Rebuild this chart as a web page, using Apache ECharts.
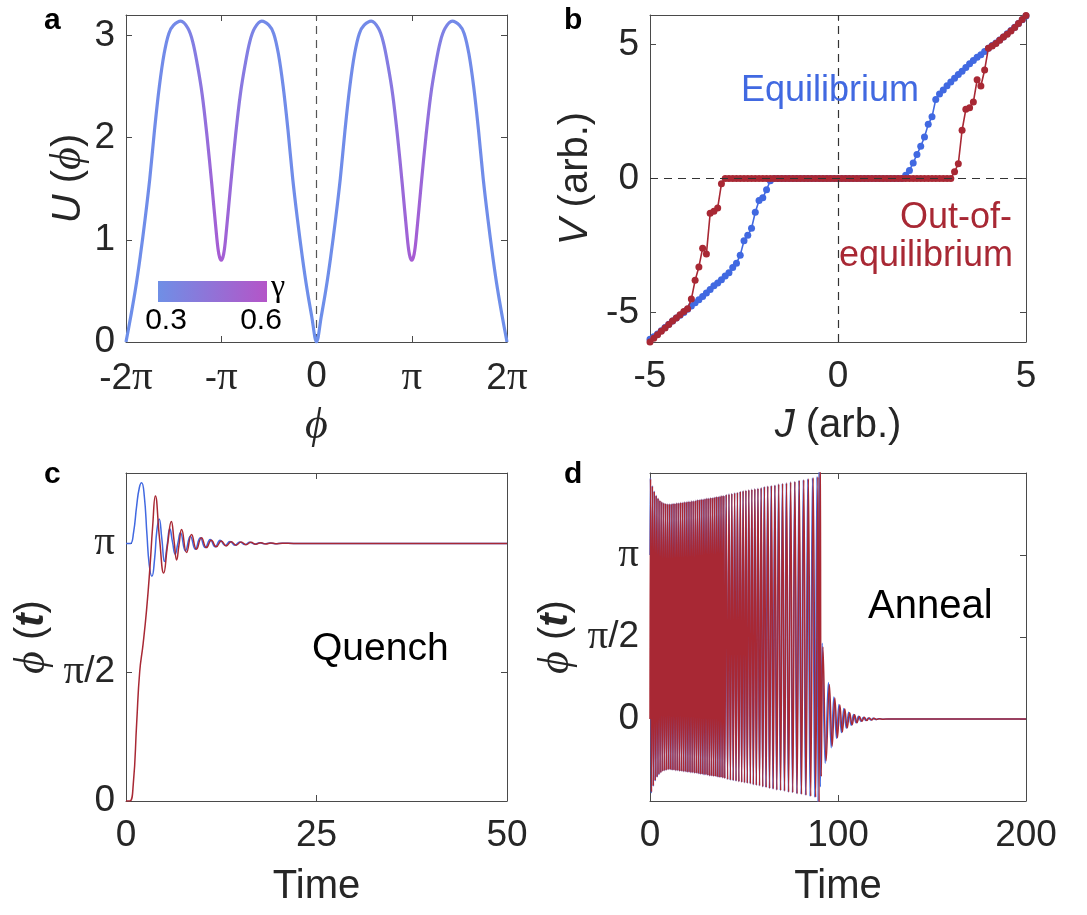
<!DOCTYPE html>
<html><head><meta charset="utf-8">
<script src="https://cdn.jsdelivr.net/npm/echarts@6/dist/echarts.min.js"></script>
<style>html,body{margin:0;padding:0;background:#fff}#c{width:1087px;height:915px}</style>
</head><body><div id="c"></div>
<script>
// ---------- Panel a: potential U(phi); phi in units of pi ----------
const phiA = [-2,-1.95,-1.9,-1.85,-1.8,-1.75,-1.7,-1.65,-1.6,-1.55,-1.5,-1.425,-1.35,-1.3,-1.25,-1.2,-1.15,-1.1,-1.05,-1.025,-1,-0.975,-0.95,-0.9,-0.85,-0.8,-0.75,-0.7,-0.65,-0.575,-0.5,-0.45,-0.4,-0.35,-0.3,-0.25,-0.2,-0.15,-0.1,-0.05,
  0,0.05,0.1,0.15,0.2,0.25,0.3,0.35,0.4,0.45,0.5,0.575,0.65,0.7,0.75,0.8,0.85,0.9,0.95,0.975,1,1.025,1.05,1.1,1.15,1.2,1.25,1.3,1.35,1.425,1.5,1.55,1.6,1.65,1.7,1.75,1.8,1.85,1.9,1.95,2];
const uA = [0,0.25,0.52,0.84,1.2,1.6,2.08,2.5,2.82,3.02,3.1,3.14,3.07,2.94,2.71,2.42,2.02,1.55,1.05,0.86,0.8,0.86,1.05,1.55,2.02,2.42,2.71,2.94,3.07,3.14,3.1,3.02,2.82,2.5,2.08,1.6,1.2,0.84,0.52,0.25,
  0,0.25,0.52,0.84,1.2,1.6,2.08,2.5,2.82,3.02,3.1,3.14,3.07,2.94,2.71,2.42,2.02,1.55,1.05,0.86,0.8,0.86,1.05,1.55,2.02,2.42,2.71,2.94,3.07,3.14,3.1,3.02,2.82,2.5,2.08,1.6,1.2,0.84,0.52,0.25,0];
const aTicksX = [-2,-1,0,1,2];
const aLabelsX = ['-2π','-π','0','π','2π'];
const aTicksY = [0,1,2,3];
const aLabelsY = ['0','1','2','3'];
const gammaLabels = ['0.3','0.6'];

// ---------- Panel b: V(J) ----------
const jB = [-5,-4.9,-4.8,-4.7,-4.6,-4.5,-4.4,-4.3,-4.2,-4.1,-4,-3.9,-3.8,-3.7,-3.6,-3.5,-3.4,-3.3,-3.2,-3.1,-3,-2.9,-2.8,-2.7,-2.6,-2.5,-2.4,-2.3,-2.2,-2.1,-2,-1.9,-1.8,-1.7,-1.6,-1.5,-1.4,-1.3,-1.2,-1.1,-1,-0.9,-0.8,-0.7,-0.6,-0.5,-0.4,-0.3,-0.2,-0.1,0,0.1,0.2,0.3,0.4,0.5,0.6,0.7,0.8,0.9,1,1.1,1.2,1.3,1.4,1.5,1.6,1.7,1.8,1.9,2,2.1,2.2,2.3,2.4,2.5,2.6,2.7,2.8,2.9,3,3.1,3.2,3.3,3.4,3.5,3.6,3.7,3.8,3.9,4,4.1,4.2,4.3,4.4,4.5,4.6,4.7,4.8,4.9,5];
const vEq = [-6.0,-5.9,-5.8,-5.68,-5.56,-5.44,-5.32,-5.2,-5.1,-5.0,-4.88,-4.76,-4.64,-4.52,-4.4,-4.27,-4.14,-4.0,-3.9,-3.78,-3.64,-3.52,-3.32,-3.16,-2.86,-2.32,-2.12,-1.86,-1.26,-0.82,-0.72,-0.42,-0.08,
  0,0,0,0,0,0,0,0,0,0,0,0,0,0,0,0,0,0,0,0,0,0,0,0,0,0,0,0,0,0,0,0,0,0,0,
  0.12,0.3,0.58,0.9,1.2,1.55,2.02,2.3,2.95,3.15,3.3,3.46,3.6,3.74,3.88,4.0,4.14,4.28,4.4,4.52,4.62,4.74,4.86,4.96,5.06,5.17,5.28,5.4,5.52,5.64,5.78,5.92,6.06];
const vOut = [-6.1,-5.96,-5.83,-5.7,-5.58,-5.45,-5.32,-5.2,-5.08,-4.96,-4.86,-4.5,-3.8,-3.3,-2.6,-2.82,-1.3,-1.22,-1.1,-0.2,
  0,0,0,0,0,0,0,0,0,0,0,0,0,0,0,0,0,0,0,0,0,0,0,0,0,0,0,0,0,0,0,0,0,0,0,0,0,0,0,0,0,0,0,0,0,0,0,0,0,0,0,0,0,0,0,0,0,0,0,0,0,
  0.25,0.55,1.8,2.58,2.64,2.85,3.68,3.45,4.05,4.86,4.94,5.04,5.16,5.28,5.38,5.5,5.63,5.78,5.93,6.08];
const bTicks = [-5,0,5];
const bLabels = ['-5','0','5'];

// ---------- Panel c: quench phi(t) ----------
const quenchBlue = [[0,3.1416],[0.3,3.1416],[0.6,3.1416],[1.0,3.28],[1.4,3.6],[1.75,3.82],[2.05,3.88],[2.4,3.72],[2.75,3.25],[3.05,2.88],[3.4,2.74],[3.75,2.95],[4.05,3.3],[4.35,3.44],[4.7,3.2],[5.05,2.92],[5.4,3.12],[5.75,3.32],[6.1,3.16],[6.45,3.01],[6.8,3.14],[7.15,3.27],[7.8,3.05],[8.45,3.23],[9.1,3.07],[9.75,3.21],[10.4,3.09],[11.05,3.19],[11.7,3.1],[12.35,3.18],[13.0,3.115],[13.65,3.165],[14.3,3.12],[14.95,3.16],[15.6,3.128],[16.25,3.154],[16.9,3.132],[17.55,3.15],[18.2,3.136],[18.85,3.147],[19.5,3.138],[20.5,3.144],[22,3.141],[25,3.1416],[50,3.1416]];
const quenchRed = [[0,0],[0.5,0],[0.95,0.2],[1.4,0.95],[1.8,1.58],[2.25,1.92],[2.7,2.33],[3.15,2.86],[3.5,3.35],[3.85,3.72],[4.4,3.2],[4.95,2.78],[5.45,3.12],[5.95,3.41],[6.3,3.18],[6.65,2.94],[6.95,3.12],[7.3,3.31],[7.95,3.03],[8.6,3.25],[9.25,3.07],[9.9,3.21],[10.55,3.09],[11.2,3.18],[11.85,3.1],[12.5,3.17],[13.15,3.11],[13.8,3.163],[14.45,3.12],[15.1,3.158],[15.75,3.126],[16.4,3.154],[17.05,3.131],[17.7,3.15],[18.35,3.135],[19.0,3.147],[19.65,3.138],[20.5,3.144],[22,3.141],[25,3.1416],[50,3.1416]];
const cTicksX = [0,25,50];
const cLabelsX = ['0','25','50'];
const phaseTicks = [0, Math.PI/2, Math.PI];
const phaseLabels = ['0','π/2','π'];

// ---------- Panel d: anneal phi(t), turning points ----------
const annealRed = [[0,0],[0.3,4.6],[0.8,-1.4],[1.3,4.46],[1.8,-1.28],[2.3,4.36],[2.8,-1.18],[3.3,4.28],[3.8,-1.11],[4.3,4.23],[4.8,-1.06],[5.3,4.19],[5.8,-1.03],[6.3,4.16],[6.8,-1.0],[7.3,4.14],[7.8,-0.99],[8.3,4.13],[8.8,-0.98],[9.3,4.12],[9.8,-0.97],
  [10.3,4.12],[10.8,-0.97],[11.3,4.12],[11.8,-0.98],[12.3,4.13],[12.8,-0.98],[13.3,4.13],[13.8,-0.99],[14.3,4.14],[14.8,-0.99],[15.3,4.14],[15.8,-1.0],[16.3,4.15],[16.8,-1.0],[17.3,4.15],[17.8,-1.01],[18.3,4.16],[18.8,-1.01],[19.3,4.16],[19.8,-1.02],
  [20.3,4.17],[20.8,-1.02],[21.3,4.17],[21.8,-1.03],[22.3,4.18],[22.8,-1.03],[23.3,4.18],[23.8,-1.04],[24.3,4.19],[24.8,-1.04],[25.3,4.2],[25.8,-1.05],[26.3,4.2],[26.8,-1.06],[27.3,4.21],[27.8,-1.06],[28.3,4.21],[28.8,-1.07],[29.3,4.22],[29.8,-1.07],
  [30.3,4.23],[30.8,-1.08],[31.3,4.23],[31.8,-1.09],[32.3,4.24],[32.8,-1.09],[33.3,4.24],[33.8,-1.1],[34.3,4.25],[34.8,-1.1],[35.3,4.26],[35.8,-1.11],[36.3,4.26],[36.8,-1.12],[37.3,4.27],[37.8,-1.12],[38.3,4.28],[38.8,-1.13],[39.3,4.28],[39.8,-1.14],
  [40.55,4.3],[41.3,-1.16],[42.05,4.31],[42.8,-1.17],[43.55,4.32],[44.3,-1.18],[45.05,4.33],[45.8,-1.19],[46.55,4.34],[47.3,-1.2],[48.05,4.36],[48.8,-1.21],[49.55,4.37],[50.3,-1.22],[51.05,4.38],[51.8,-1.23],[52.6,4.39],[53.4,-1.24],[54.2,4.4],[55.0,-1.26],[55.8,4.41],[56.6,-1.27],[57.45,4.42],[58.3,-1.28],[59.15,4.43],[60.0,-1.3],
  [60.9,4.45],[61.8,-1.31],[62.7,4.46],[63.65,-1.33],[64.6,4.47],[65.55,-1.34],[66.5,4.48],[67.5,-1.36],[68.5,4.5],[69.5,-1.37],[70.55,4.51],[71.6,-1.38],[72.65,4.52],[73.75,-1.4],[74.85,4.54],[75.95,-1.41],[77.1,4.55],[78.25,-1.43],[79.4,4.57],
  [80.6,-1.44],[81.8,4.58],[83.0,-1.46],[84.25,4.6],[85.5,-1.48],[86.8,4.62],[88.1,-1.5],[89.3,4.64],[89.95,-1.65],[90.55,5.3],[91.1,-1.1],
  [92.0,1.38],[93.7,-0.8],[95.4,0.66],[96.9,-0.52],[98.3,0.4],[99.7,-0.36],[101.0,0.27],[102.3,-0.25],[103.6,0.19],[104.9,-0.17],[106.2,0.12],[107.5,-0.11],[108.8,0.08],[110.1,-0.07],[111.4,0.05],[112.7,-0.045],[114.0,0.032],[115.3,-0.028],[116.6,0.02],[117.9,-0.017],[119.2,0.012],[120.5,-0.01],[122,0.005],[124,-0.003],[127,0],[200,0]];
const annealBlue = [[0,3.1416],[0.2,4.62],[0.7,-1.42],[1.2,4.47],[1.7,-1.29],[2.2,4.37],[2.7,-1.19],[3.2,4.29],[3.7,-1.12],[4.2,4.23],[4.7,-1.07],[5.2,4.19],[5.7,-1.03],[6.2,4.16],[6.7,-1.0],[7.2,4.14],[7.7,-0.99],[8.2,4.13],[8.7,-0.98],[9.2,4.12],[9.7,-0.97],
  [10.2,4.12],[10.7,-0.97],[11.2,4.12],[11.7,-0.98],[12.2,4.13],[12.7,-0.98],[13.2,4.13],[13.7,-0.99],[14.2,4.14],[14.7,-0.99],[15.2,4.14],[15.7,-1.0],[16.2,4.15],[16.7,-1.0],[17.2,4.15],[17.7,-1.01],[18.2,4.16],[18.7,-1.01],[19.2,4.16],[19.7,-1.02],
  [20.2,4.17],[20.7,-1.02],[21.2,4.17],[21.7,-1.03],[22.2,4.18],[22.7,-1.03],[23.2,4.18],[23.7,-1.04],[24.2,4.19],[24.7,-1.04],[25.2,4.2],[25.7,-1.05],[26.2,4.2],[26.7,-1.06],[27.2,4.21],[27.7,-1.06],[28.2,4.21],[28.7,-1.07],[29.2,4.22],[29.7,-1.07],
  [30.2,4.23],[30.7,-1.08],[31.2,4.23],[31.7,-1.09],[32.2,4.24],[32.7,-1.09],[33.2,4.24],[33.7,-1.1],[34.2,4.25],[34.7,-1.1],[35.2,4.26],[35.7,-1.11],[36.2,4.26],[36.7,-1.12],[37.2,4.27],[37.7,-1.12],[38.2,4.28],[38.7,-1.13],[39.2,4.28],[39.7,-1.14],
  [40.45,4.3],[41.2,-1.16],[41.95,4.31],[42.7,-1.17],[43.45,4.32],[44.2,-1.18],[44.95,4.33],[45.7,-1.19],[46.45,4.34],[47.2,-1.2],[47.95,4.36],[48.7,-1.21],[49.45,4.37],[50.2,-1.22],[50.95,4.38],[51.7,-1.23],[52.5,4.39],[53.3,-1.24],[54.1,4.4],[54.9,-1.26],[55.7,4.41],[56.5,-1.27],[57.35,4.42],[58.2,-1.28],[59.05,4.43],[59.9,-1.3],
  [60.7,4.45],[61.6,-1.31],[62.5,4.46],[63.45,-1.33],[64.4,4.47],[65.35,-1.34],[66.3,4.48],[67.3,-1.36],[68.3,4.5],[69.3,-1.37],[70.35,4.51],[71.4,-1.38],[72.45,4.52],[73.55,-1.4],[74.65,4.54],[75.75,-1.41],[76.9,4.55],[78.05,-1.43],[79.2,4.57],
  [80.35,-1.44],[81.5,4.58],[82.7,-1.46],[83.9,4.6],[85.1,-1.48],[86.4,4.62],[87.6,-1.5],[88.8,4.64],[89.4,-1.65],[89.95,5.3],[90.6,-1.3],
  [91.6,1.45],[93.2,-0.85],[94.9,0.7],[96.4,-0.55],[97.8,0.42],[99.2,-0.37],[100.5,0.28],[101.8,-0.26],[103.1,0.2],[104.4,-0.18],[105.7,0.13],[107.0,-0.12],[108.3,0.085],[109.6,-0.075],[110.9,0.055],[112.2,-0.048],[113.5,0.034],[114.8,-0.03],[116.1,0.022],[117.4,-0.018],[118.7,0.013],[120,-0.011],[121.5,0.006],[123.5,-0.003],[127,0],[200,0]];
const dTicksX = [0,100,200];
const dLabelsX = ['0','100','200'];

// ---------- styling ----------
const SANS = "'Liberation Sans', Arial, Helvetica, sans-serif";
const SERIF = "'Liberation Serif', 'Times New Roman', 'DejaVu Serif', serif";
const AX = '#4a4a4a', TXT = '#262626';
const BLUE = '#4169e1', RED = '#a82834';
const TICK_FS = 37, NAME_FS = 40;

function toRich(s){ return s.split('π').map(p => p ? '{n|' + p + '}' : '').join('{p|π}'); }
function fmt(vals, labels){
  return function(v){
    for (let i = 0; i < vals.length; i++) if (Math.abs(v - vals[i]) < 1e-6) return toRich(labels[i]);
    return '';
  };
}
const richTick = { n:{fontFamily:SANS,fontSize:TICK_FS,color:TXT}, p:{fontFamily:SERIF,fontSize:TICK_FS+4,color:TXT} };
const richName = {
  i:{fontFamily:SANS,fontStyle:'italic',fontSize:NAME_FS,color:TXT},
  p:{fontFamily:SERIF,fontStyle:'italic',fontSize:NAME_FS+4,color:TXT},
  t:{fontFamily:SANS,fontStyle:'italic',fontWeight:'bold',fontSize:NAME_FS,color:TXT}
};
function axisPair(kind, gi, min, max, ticks, labels, name, nameGap){
  const main = {
    type:'value', gridIndex:gi, min:min, max:max,
    position: kind === 'x' ? 'bottom' : 'left',
    axisLine:{show:true,onZero:false,lineStyle:{color:AX,width:1}},
    axisTick:{show:true,inside:true,length:6,customValues:ticks,lineStyle:{color:AX,width:1}},
    axisLabel:{show:true,customValues:ticks,margin: kind === 'x' ? 16 : 11,formatter:fmt(ticks,labels),rich:richTick,fontSize:TICK_FS,fontFamily:SANS,color:TXT},
    splitLine:{show:false},
    name:name, nameLocation:'middle', nameGap:nameGap,
    nameTextStyle:{fontFamily:SANS,fontSize:NAME_FS,color:TXT,rich:richName}
  };
  const twin = {
    type:'value', gridIndex:gi, min:min, max:max,
    position: kind === 'x' ? 'top' : 'right',
    axisLine:{show:true,onZero:false,lineStyle:{color:AX,width:1}},
    axisTick:{show:true,inside:true,length:6,customValues:ticks,lineStyle:{color:AX,width:1}},
    axisLabel:{show:false}, splitLine:{show:false}
  };
  return [main, twin];
}

const G = echarts.graphic;
const curveGrad = new G.LinearGradient(0,0,1,0,[
  {offset:0,color:'#6d8fea'},{offset:0.15,color:'#7489e8'},{offset:0.2,color:'#8c76df'},{offset:0.25,color:'#a85ad2'},
  {offset:0.3,color:'#8c76df'},{offset:0.35,color:'#7489e8'},{offset:0.5,color:'#6d8fea'},
  {offset:0.65,color:'#7489e8'},{offset:0.7,color:'#8c76df'},{offset:0.75,color:'#a85ad2'},
  {offset:0.8,color:'#8c76df'},{offset:0.85,color:'#7489e8'},{offset:1,color:'#6d8fea'}]);

const xAxis = [].concat(
  axisPair('x',0,-2,2,aTicksX,aLabelsX,'{p|ϕ}',62),
  axisPair('x',1,-5,5,bTicks,bLabels,'{i|J} (arb.)',64),
  axisPair('x',2,0,50,cTicksX,cLabelsX,'Time',66),
  axisPair('x',3,0,200,dTicksX,dLabelsX,'Time',66)
);
const yAxis = [].concat(
  axisPair('y',0,0,3.2,aTicksY,aLabelsY,'{i|U} ({p|ϕ})',34),
  axisPair('y',1,-6.1,6.1,bTicks,bLabels,'{i|V} (arb.)',54),
  axisPair('y',2,0,4,phaseTicks,phaseLabels,'{p|ϕ} ({t|t})',72),
  axisPair('y',3,-Math.PI/2,3*Math.PI/2,phaseTicks,phaseLabels,'{p|ϕ} ({t|t})',72)
);

const dashStyle = {type:[8,6],color:'#333',width:1.2};
const series = [
  {type:'line',xAxisIndex:0,yAxisIndex:0,data:phiA.map((p,i)=>[p,uA[i]]),symbol:'none',smooth:0.35,
   lineStyle:{width:3.2,color:curveGrad},itemStyle:{color:'#6d8fea'},z:3,
   markLine:{silent:true,symbol:'none',label:{show:false},lineStyle:{type:[8,6],color:'#555',width:1.2},data:[{xAxis:0}],z:2}},
  {type:'line',xAxisIndex:2,yAxisIndex:2,data:[],symbol:'none',z:1,
   markLine:{silent:true,symbol:'none',label:{show:false},lineStyle:dashStyle,data:[{xAxis:0},{yAxis:0}]}},
  {type:'line',xAxisIndex:2,yAxisIndex:2,data:jB.map((j,i)=>[j,vEq[i]]),symbol:'circle',symbolSize:7,
   lineStyle:{width:1.6,color:BLUE},itemStyle:{color:BLUE},z:3},
  {type:'line',xAxisIndex:2,yAxisIndex:2,data:jB.map((j,i)=>[j,vOut[i]]),symbol:'circle',symbolSize:7,
   lineStyle:{width:1.6,color:RED},itemStyle:{color:RED},z:4},
  {type:'line',xAxisIndex:4,yAxisIndex:4,data:quenchBlue,symbol:'none',smooth:0.5,lineStyle:{width:1.5,color:BLUE},z:3},
  {type:'line',xAxisIndex:4,yAxisIndex:4,data:quenchRed,symbol:'none',smooth:0.5,lineStyle:{width:1.5,color:RED},z:4},
  {type:'line',xAxisIndex:6,yAxisIndex:6,data:annealBlue,symbol:'none',smooth:0.4,lineStyle:{width:1.4,color:BLUE},z:3},
  {type:'line',xAxisIndex:6,yAxisIndex:6,data:annealRed,symbol:'none',smooth:0.4,lineStyle:{width:1.5,color:RED},z:4}
];

function txt(text,x,y,font,fill,align){
  return {type:'text',x:x,y:y,z:10,style:{text:text,font:font,fill:fill,textAlign:align||'left',textVerticalAlign:'middle'}};
}
const graphic = {elements:[
  txt('a',44,21,'bold 30px '+SANS,'#000'),
  txt('b',564,21,'bold 30px '+SANS,'#000'),
  txt('c',44,475,'bold 30px '+SANS,'#000'),
  txt('d',564,475,'bold 30px '+SANS,'#000'),
  {type:'rect',z:10,shape:{x:158,y:281,width:109,height:21},
   style:{fill:new G.LinearGradient(0,0,1,0,[{offset:0,color:'#6f8fe6'},{offset:1,color:'#b455c8'}])}},
  txt(gammaLabels[0],166,321,'30px '+SANS,'#000','center'),
  txt(gammaLabels[1],261,321,'30px '+SANS,'#000','center'),
  txt('γ',271,288,'32px '+SERIF,'#000'),
  txt('Equilibrium',741,91,'36px '+SANS,BLUE),
  txt('Out-of-',1012,218,'36px '+SANS,RED,'right'),
  txt('equilibrium',1013,256,'36px '+SANS,RED,'right'),
  txt('Quench',312,649,'39px '+SANS,'#000'),
  txt('Anneal',868,607,'40px '+SANS,'#000')
]};

const chart = echarts.init(document.getElementById('c'), null, {renderer:'canvas'});
chart.setOption({
  animation:false,
  backgroundColor:'#fff',
  grid:[
    {left:126,top:15,width:381,height:327,outerBoundsMode:'none'},
    {left:650,top:15,width:376,height:327,outerBoundsMode:'none'},
    {left:126,top:473,width:381,height:328,outerBoundsMode:'none'},
    {left:650,top:473,width:376,height:328,outerBoundsMode:'none'}
  ],
  xAxis:xAxis, yAxis:yAxis, series:series, graphic:graphic
});
</script></body></html>
